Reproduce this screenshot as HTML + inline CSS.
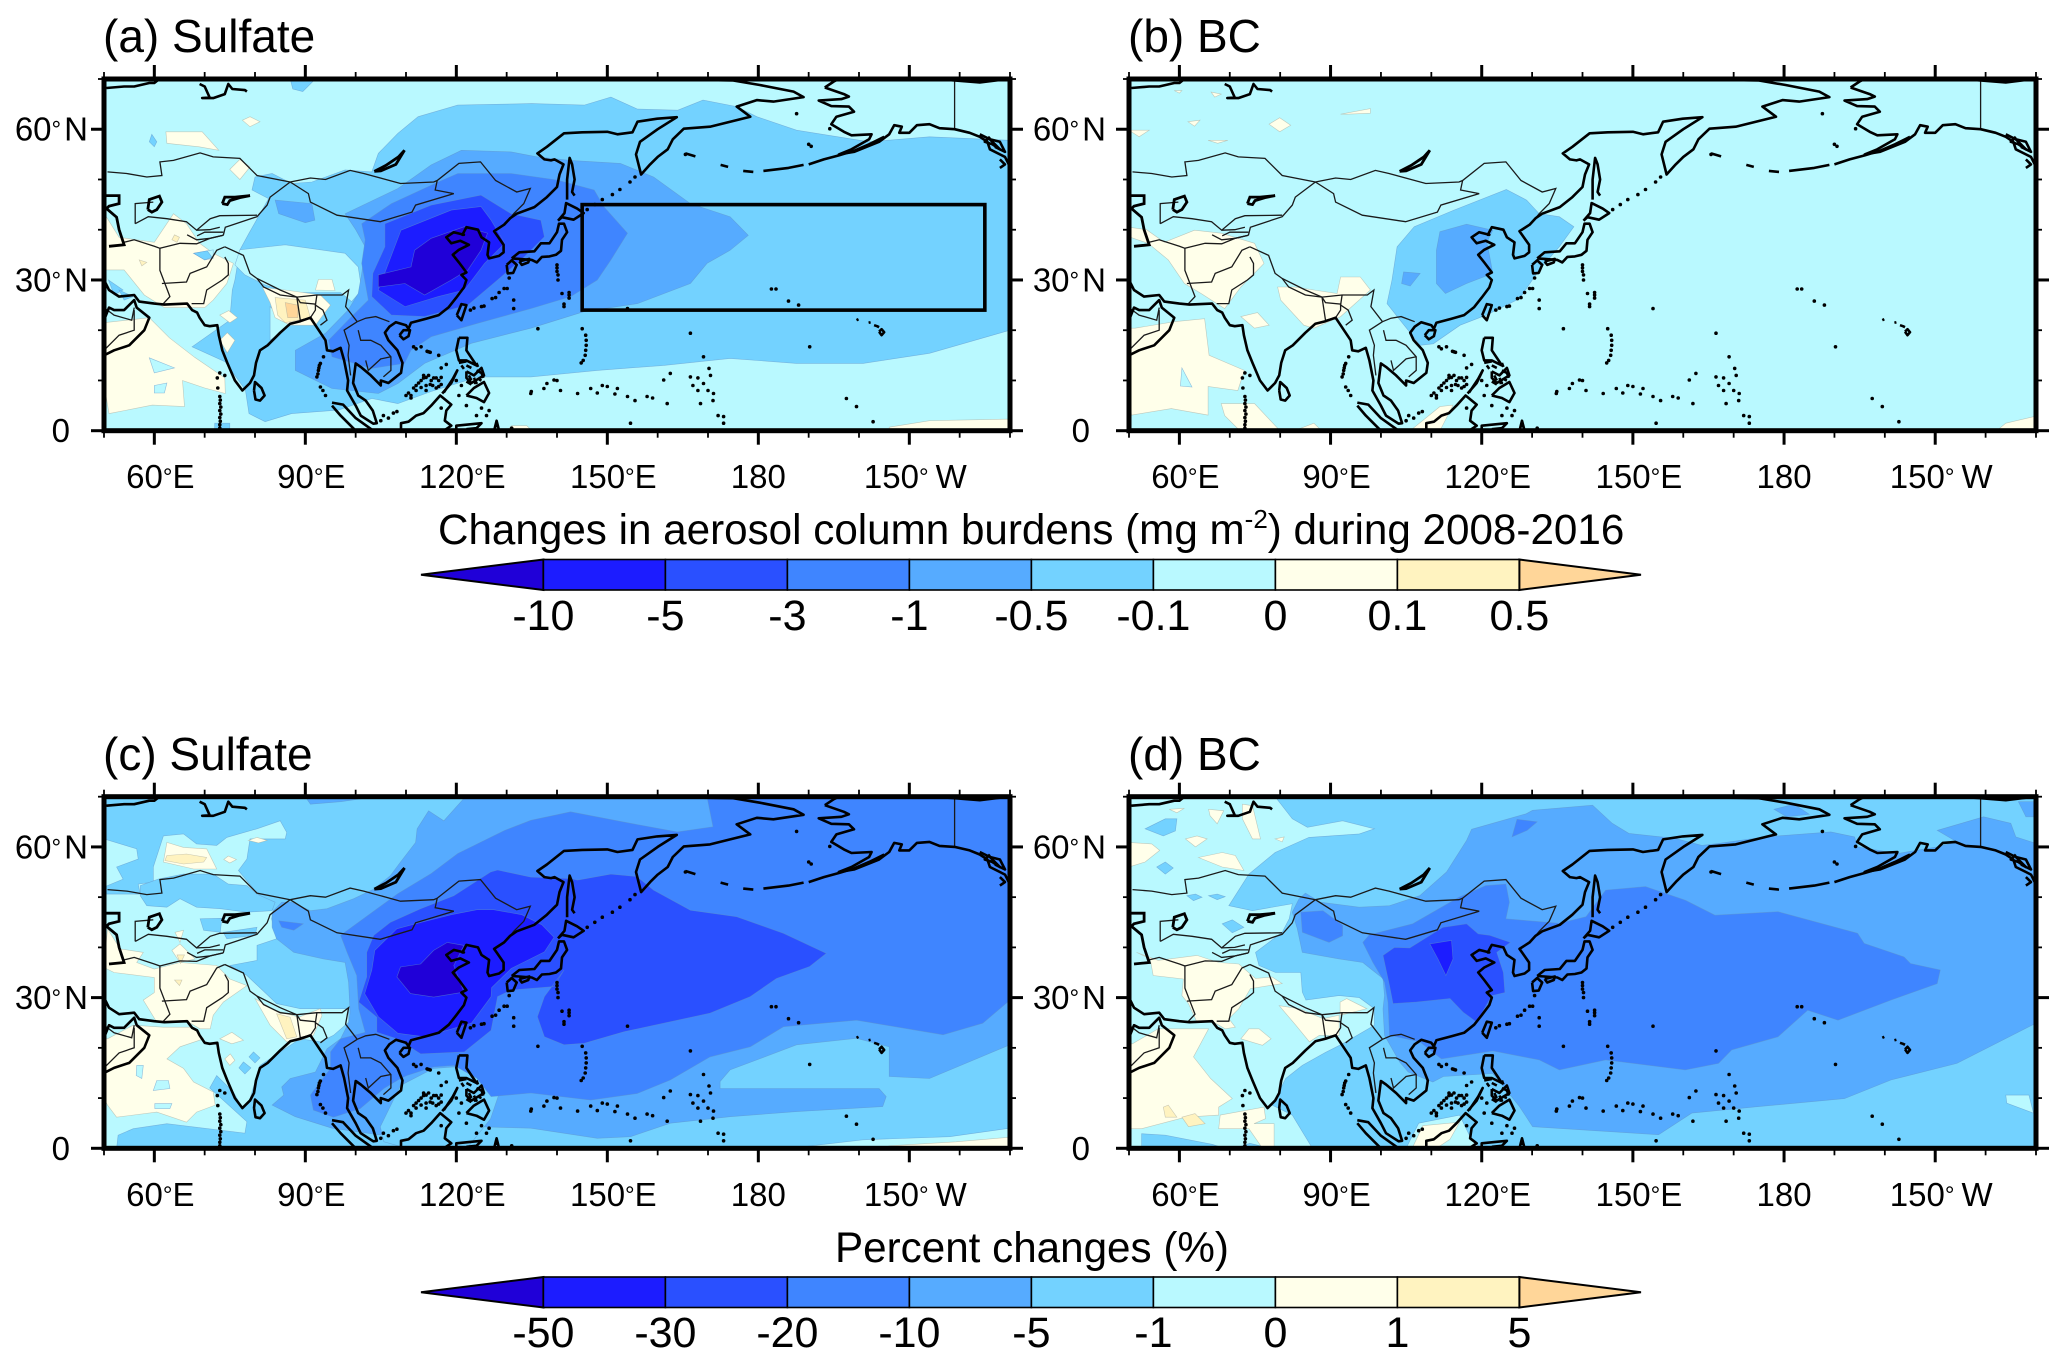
<!DOCTYPE html>
<html lang="en">
<head>
<meta charset="utf-8">
<title>Changes in aerosol column burdens</title>
<style>
html,body{margin:0;padding:0;background:#fff}
svg{display:block}
text{font-family:"Liberation Sans",Arial,sans-serif;fill:#000}
</style>
</head>
<body>
<svg id="figure" xmlns="http://www.w3.org/2000/svg" width="2067" height="1366" viewBox="0 0 2067 1366">
  <rect width="2067" height="1366" fill="#ffffff"/>
  <g id="panels"></g>
  <text x="103" y="52" font-size="46">(a) Sulfate</text>
  <text x="1128" y="52" font-size="46">(b) BC</text>
  <text x="103" y="770" font-size="46">(c) Sulfate</text>
  <text x="1128" y="770" font-size="46">(d) BC</text>
  <text x="438" y="544" font-size="42.2">Changes in aerosol column burdens (mg m<tspan font-size="26" dy="-16">-2</tspan><tspan dy="16">) during 2008-2016</tspan></text>
  <text x="835" y="1262" font-size="42.2">Percent changes (%)</text>
  <g id="bars"></g>
</svg>
<script>
// ---------- shared scales ----------
const levelColors = ['#2000D8','#1C1CFF','#2A50FF','#3F85FF','#56ABFF','#73D2FF','#B9F9FF','#FFFFEA','#FFF3C0','#FFD699'];
const xTickLons = [60,90,120,150,180,210];
const xTickLabels = ['60°E','90°E','120°E','150°E','180','150°W'];
const xMinorLons = [50,70,80,100,110,130,140,160,170,190,200,220,230];
const yTickLats = [0,30,60];
const yTickLabels = ['0','30°N','60°N'];
const yMinorLats = [10,20,40,50,70];
const burdenTicks = ['-10','-5','-3','-1','-0.5','-0.1','0','0.1','0.5'];
const percentTicks = ['-50','-30','-20','-10','-5','-1','0','1','5'];
const boxRegion = [145,225,24,45];

// ---------- contour fill polygons: [level index, [lon,lat, lon,lat, ...]] ----------
const panelABase = 6;
const panelAContours = [
[5,[230,57.8,214,58.5,202,57.5,187.6,59.8,179.7,62.5,175.7,64.5,169,65.8,164,63.8,156,64,150.7,66.4,145.4,64.8,135,65.1,120.3,64.8,112.4,62.5,108.4,59.2,104.5,55.2,103.2,51.5,97.9,51.9,91.3,49.5,87.3,49.2,83.4,51.2,80,50.5,79.4,47.9,82.7,46.2,78.8,39.3,77,36,76,30,75.5,28,75,22,67.5,16.7,74.1,13.7,78.1,8.1,78.8,3.4,82,1.8,87.3,3.4,96.6,4.1,103.2,6.4,108.4,5.4,115,7.8,124.3,10.7,134.8,10.7,148,12,161.2,13,174.4,14.4,187.6,13.4,200.8,13.4,214,15.4,230,20]],
[6,[77,36,86,37,97.9,35.3,100.5,32.6,101.2,28,99.2,25.7,97,27.5,92,27.5,87,27.5,82,29,78,31,76,33]],
[6,[83,24.7,87,21,83,18]],
[5,[72,0,72,1.5,75,1.5,75,0]],
[5,[87,70,87.5,68,89.5,67.5,92,70]],
[5,[50.9,30,53.8,28,52,27]],
[5,[53,28,55.8,26.7,54,26]],
[5,[59.5,59,60.5,57.5,60,56.5,59,57.5]],
[7,[50,43.3,53,38.5,60,37.5,63.8,43.2,66.4,41.2,69,37.3,71.7,35.3,75.7,33.3,74.4,29.3,71.7,26,70,24.5,62,24.5,58,27,54,32,50,32]],
[6,[67.8,35.3,71.7,36,71.7,34.3,70,34]],
[5,[67.8,35.3,70.5,35.8,71.5,34.5,70,34]],
[8,[64,39,65,38.5,64.5,37.5,63.5,38]],
[8,[57,34,58.5,33.5,57.5,32.8]],
[7,[50,21.5,59,22.5,63,18.5,68,14.6,74,10.5,74.1,7.4,70,8.5,65.6,10,66,4.8,59.6,5.1,51,3.4,50,9.4]],
[6,[60,9,62.5,9.5,62,7.5,60,7.5]],
[6,[59,14.5,64,12.5,60,11.5]],
[7,[81.5,28.5,86,28,93,27,95,25,92,21,87,21,84,22.5,83,25.5]],
[8,[84,26.5,90,26,91,22.5,86,21.5,84.5,23]],
[9,[86,25.5,88.5,25,88.5,22.5,86.5,22.5]],
[7,[92,28,92.6,30.1,95.3,30.1,95.9,27.9]],
[7,[62.3,59.5,69.5,59.5,72.8,55.8,68.9,56.5,62.5,57.2]],
[7,[77.5,61.8,79,60.5,81,61.5,79,62.5]],
[7,[73,23,75,21.5,76.5,22.5,74.8,23.9]],
[7,[73,18,74.5,15.5,76,18,74.5,19.5]],
[7,[75,52,77,54,79,52.5,77,50]],
[7,[206,0,206,0.7,214,2,230,2.3,230,0]],
[7,[130,0,131,1,134,1,135,0]],
[4,[142.7,53.8,152.6,53.2,159.2,50.5,166.5,45.2,174.4,42.6,178,38.9,174.4,35.9,169.8,33.3,166.5,29.3,156,25.3,145.4,23.7,134.8,20.4,123,17.4,113.7,13.4,108.4,9.4,104.5,7.4,95.3,8.4,88,12,88,16,94,19.4,98.5,24,100.5,27.3,101.2,31.3,101.9,36.6,100,40,97.9,43.2,108.4,48.2,115,52.9,121,55.8,130.9,55.5,136.1,54.5]],
[4,[84,45.9,91.3,45.2,91.9,41.9,90,41.4,84.7,43.2]],
[3,[101.2,41.2,107.1,45.2,116.4,49.5,120.3,51.2,130.9,51.2,140,49.9,147.4,47.9,149.3,44.6,154,39.3,150.7,34,148,30,142.7,26.7,134.8,24.3,124.3,21.4,115,18.7,111,16,109.7,13.4,103.2,12.4,95.3,14.7,94.6,18,99.2,22.7,102.5,26,101.2,33.3,101.9,38]],
[2,[105.8,41.2,115,44.9,124.9,46.9,130.9,43.2,136.8,41.9,137.5,38.6,133.5,34.6,128.2,30,122.3,25,113.7,22.7,107.1,23,103.2,26.7,103.4,31.3,105.8,36.6]],
[1,[109,39.9,119,43.9,124.9,44.6,126.9,41.9,129.6,37.3,125.6,33.3,121.6,28,116.4,26.7,109.8,24.7,104.5,28,106.5,33.3]],
[0,[111.7,35.9,115,38.3,121.6,40.6,126.2,39.3,124.9,35.9,122.3,32,119,30,113.7,27,109.8,29.3,104.5,28.6,104.5,31,111,32.6]]
];

const panelBBase = 6;
const panelBContours = [
[5,[124.9,48,128.9,45.9,131.4,43.2,135.4,42.6,138.3,40.6,135.4,36.6,131.4,32,127.5,26.3,120.9,23,115.7,21,110.4,17.3,107.8,17,103.8,22,101.2,25.3,102.2,30,103.2,36.6,106.6,40.6,114.5,43.9]],
[4,[111.7,39.6,117,41.1,122.2,39.9,121,37.5,121.6,34.6,122.2,31.3,117,29.3,112.8,27.3,111,29.3,111,35.9]],
[4,[104.5,31.6,107.8,31.3,105.8,28.8,104.1,29.3]],
[7,[50,40.5,53.5,40,57,37.5,63,39.9,68.3,39.3,74.9,37.3,76.8,33.3,72.2,28.6,69,24.3,64.3,27.3,61,29.3,57.8,34,53.8,37.3,50,38.6]],
[7,[79.5,28.6,82.8,28.6,91.3,27.3,92,30.6,95.9,30.6,97.9,28,92,22.7,86.7,20.4,84.7,21,80.1,26]],
[7,[72.2,22.7,75.5,23.5,77.8,21,74.9,20.4]],
[7,[50,20.4,51.2,20.4,59,21.7,65,22.3,65.9,15,72.9,12,71.6,8,65.7,8.8,65.7,3.1,58.4,4.4,50.5,3.1,50,8]],
[6,[60.5,12.5,62.5,8.7,60.2,8.9]],
[7,[68.3,5.4,74.9,5.4,79.5,0.5,79,0,72,0,69,3]],
[7,[82.8,0,86.7,1.5,88.2,0]],
[7,[105.8,0,111.7,4.8,114.3,5.1,111.7,0]],
[7,[222.2,0,224,1.5,229.6,2.8,230,0]],
[7,[79.9,62.3,82.1,60.8,79.9,59.5,77.8,61]],
[7,[92,63,97.9,64.1,97.9,63.2,93.3,63]],
[7,[50,59.8,54,59.8,52,58.5]],
[7,[61.7,61.5,64.1,61.8,63,60.6]],
[7,[65.7,57.8,69.6,57.8,67.6,57.2]],
[7,[66.3,67.4,68.3,67,67,66.4]],
[7,[59,67.7,60.5,67.7,60,67.2]]
];

const panelCBase = 5;
const panelCContours = [
[6,[59.8,56,61.8,62.2,65.8,62.6,68.4,60.6,72.4,60.3,74.4,61.9,80.4,63.6,85,65.2,86.3,62.9,86,61.6,79,61.6,78.4,57.6,76.7,55.3,80,51.3,83.7,47.3,83.3,45.7,84.3,41.7,80.4,40.4,80.4,37.4,75,36.4,78.4,34.4,84.3,28.8,89,27.8,93,27.8,98.6,27.8,98.6,25.1,95.6,22.5,93,21.2,89,21.8,85,19.2,81,16.5,80,13.2,78.7,8.9,77.4,8.2,75.7,11.2,72.4,14.5,71,12,78.4,5.3,78,3,62.5,4.9,55.8,3.9,52.8,2.6,52.5,0,50,0,50,50.6,57.2,50.6,56.8,52.6,59.8,53]],
[6,[50,61.6,56.5,59.6,56.8,57.6,52.5,56,53.8,53.6,50,52]],
[5,[57.2,52.3,60.8,53.6,65.8,54.6,71.7,54.6,74.7,52.6,78.4,52.3,80.4,50.6,84,49,83.4,47.3,78.4,47,73.1,47.7,68.4,48,65.1,49.7,62.5,48,58.5,48.3,57.2,50.3]],
[5,[69.1,45.7,73.4,45.8,73.1,43,69.8,43.4]],
[5,[73.7,43,80.4,44,80,42.4,74.4,41.7]],
[5,[77.7,17.2,79.2,16,78,14.8,76.8,16]],
[5,[79.7,19.2,81,18,80,17,78.8,18.2]],
[7,[62.5,60.9,65.8,59.9,70.4,59.6,72.4,55.6,67.8,55.6,61.8,57]],
[8,[62.5,58.3,66.4,58.6,70.4,57.9,69.8,57,65.8,56.6,62.1,57.3]],
[7,[80.4,61.9,82.4,61.3,80.7,60.8,78.7,61.3]],
[7,[74.7,58.2,76.3,57.5,75,56.8,73.8,57.5]],
[7,[50.7,43.7,53.2,39.7,57.8,39,56.5,37,60,35.7,65.1,37,72.4,36.4,75,33.7,78.4,32.4,73.7,29.1,71.7,26.5,71.1,23.8,69.1,23.8,66.8,25.1,60.5,25.1,57.8,29.5,60,31,60,34,52,35,50,36]],
[7,[63.5,39.4,65.1,40.7,68.1,37.7,65.1,37]],
[7,[64.1,43,65.8,43.4,65.1,41]],
[8,[64,33.5,65.5,33.5,65,32.4]],
[8,[64.5,38.5,66,38.5,65.2,36.8]],
[7,[80,29.8,84,27.5,88.7,26.1,93,27.8,93.3,26.4,91.6,22.5,89,21.5,86.3,21.2,83,24.5]],
[8,[84.3,26.8,87,26.1,88.3,22.2,86.3,21.8]],
[7,[75.4,23.1,77.7,21.5,75.4,20.8,73,21.8]],
[7,[75.1,18.8,76,17.5,75,16.5,74,17.8]],
[7,[50.7,21.8,55.8,24.5,61.8,24.1,67.8,24.1,69.8,21.8,65.1,20.2,62.5,17.8,65.8,15.9,67.8,13.2,71.7,11.2,72.1,8.6,68.4,7.2,66.4,5.2,60.5,7.2,52.5,6.2,50.7,8.6,50,10,50,21.8]],
[6,[56.5,16.5,57.8,16.5,57.5,13.9,56.4,14.5]],
[6,[60.5,13.5,62.8,13.5,63.1,11.9,59.8,11.5]],
[6,[60.1,8.9,63.5,8.9,63.1,7.9,60.1,7.9]],
[6,[186.3,0,200.8,1.7,218,2.3,230,4,230,0]],
[7,[205,0,206,0.5,219.3,1.3,230,2.2,230,0]],
[4,[230,70,121.8,70,117.5,65.2,114.5,67.2,112.2,63.6,111.9,60.9,108.9,57,106.9,54.3,103.6,51.6,99.6,49.7,94.3,47.7,91,47.3,87.3,49,85.3,49,83.4,47,83.4,44,84.3,41.7,87.7,39,93.6,37.7,97.9,37,98.6,33,98.9,27,98.6,25,97,21.8,94.3,19.8,92,15.2,87,13.9,85.3,12.2,85.7,10.6,83.4,8.6,88,6.3,95.3,4,104.5,2.7,113.7,2.7,124.3,4.3,134.8,4,148,2,154.6,2.3,162.5,5,174.4,6.3,187.6,7.3,204.7,8.3,205.4,10.3,204,11.9,172.4,11.9,172.4,13.3,174.4,15.6,179.7,17.6,187.6,20.6,199.5,21.9,206,20.2,206,14.3,214,13.9,230,20.6]],
[4,[90,70,91,68.5,97,69,104,70]],
[5,[104.9,4.3,108.9,12.5,115.5,15.9,119.5,16.2,126.8,14.9,128.4,10.6,126.8,5.9,122.1,0,116.8,0,110.2,0,105.6,1.3]],
[3,[230,70,169.8,70,171,64,163.9,63,154.6,64.7,142.7,67,134.8,65.3,129.6,63.3,120.3,58.7,115,54.7,108.4,50.7,97,42.4,98.3,39,100.2,34.4,100.6,27.8,101.9,23.1,97,21.8,95,19.2,95,15.9,91,10.6,91.6,7.6,95.6,6.2,100.9,7.9,105.6,11.9,108.9,13.9,110.2,14.5,115.5,16.2,119.5,16.5,124,14,126.9,10.3,134.8,11,146.7,9.6,155.9,10.9,162.5,13.6,170.4,18.2,178.4,20.2,185,24.2,199.5,25.5,216.7,22.6,224.6,24.9,230,29.5]],
[3,[84.7,45.3,89.6,44.7,87.7,43.4,85.3,44]],
[2,[103.6,42.4,102.2,39,102.2,34.1,100.6,29.1,104.2,26.1,104.2,23.1,108.2,21.8,112.9,18.8,121.6,19.2,126.9,23.5,128.2,30.2,130.9,31.5,139.4,32.2,141.4,35.5,137.5,30.2,136.1,26.2,137.5,22.2,141.4,20.6,145.4,20.9,153.3,23.2,161.2,24.9,170.4,26.9,178.4,30.2,183.6,33.8,190.2,36.2,193.5,38.8,185,42.8,175.7,46.1,166.5,47.4,159.2,51.4,155.9,54.1,150.7,54.6,144.1,53.4,142.7,53.7,134.8,54,128.2,55.4,126.8,55,119.5,50.3,112.9,47.7,106.9,45]],
[1,[103.8,39.4,108.2,43.7,113,45,119,46.5,124.1,47.5,127.4,47.5,133,46.5,137,44.5,139.4,42,137.5,39.1,130.9,35.8,127,32,126.9,30.2,123,24.9,113.7,22.2,108.4,22.9,104.5,26.2,101.8,30.8,103.2,35.5]],
[0,[108.2,34.1,108.9,36.1,112.9,36.7,115.5,39.4,118.2,41,121.5,40.4,119.5,36.4,121.5,31.1,115.5,30.1,110.9,30.8]]
];

const panelDBase = 5;
const panelDContours = [
[6,[79,70,82.4,65.6,85.4,63.9,92.4,65.2,98.7,63.6,95.7,62.6,85.7,61.9,79,58.9,73.8,54.6,69.8,48.3,74.5,47.3,82.4,48.7,81.8,45.7,80.4,43,75.1,39,75.8,36.4,79.1,35,84.1,35,84.4,31.1,85.1,29.5,91.7,30.4,95.7,30,98.7,27.8,98.7,24.5,92.4,20.8,89,19.1,84.4,16.5,81.1,13.9,78.4,8.6,82.4,6.6,86.4,0,50,0,50,70]],
[6,[224,10.6,228.6,10.6,229.5,7,224.2,9]],
[6,[105,0,107.5,5,115.6,6.6,117.6,2.5,119.7,0]],
[7,[106.2,0,108.3,4.5,115.6,5.2,113.7,1.8,111,0]],
[5,[53.2,63.6,57.2,65.6,59.5,65.6,59.2,63.2,56.8,62.2]],
[5,[55.5,56,57.2,57,58.8,55.8,57.2,54.6]],
[5,[68.5,44.7,70.5,45.5,72.8,44,70.5,42.9]],
[5,[61.5,50.3,63.2,50.6,64.5,50,62.8,49.3]],
[5,[65.8,50.3,67.5,50.6,69.1,50.1,67.5,49.5]],
[5,[52.5,0,52.5,2.9,57.2,2.6,66.5,0.8,69,0]],
[5,[71,0,74,1,78,0]],
[5,[61,12.5,63,12.2,62,11.2]],
[7,[65.8,67.5,68.8,67.2,67.5,64.6,66.1,66.2]],
[7,[72.5,68.5,74.5,68.2,76.1,61.6,74.5,61.6,72.5,65.6]],
[7,[61.2,61.6,63.5,62.2,65.5,61.6,63.2,60]],
[7,[50,60.9,54.5,60.6,56.1,59.3,53.2,57,50,56]],
[7,[63.8,57.9,68.5,58.9,71.1,58.3,72.8,55.3,68.5,56]],
[7,[79,61.6,80.8,62,80.4,61]],
[7,[58,67.5,61,67.7,59.5,66.8]],
[7,[51.5,39,54.2,37.7,54.8,34.4,60.8,33.7,60.5,30.4,61.8,28.8,63.5,25.1,66.8,25.1,69.1,23.8,71.1,24.1,69.8,25.8,71.8,27.8,74.1,31.8,80.4,32.8,78.4,34.1,75.1,33.8,71.8,36.7,67.8,37,63.5,38.4,55.8,37.4]],
[7,[91.9,29.1,93.2,29.8,97.2,27.8,93.2,26.8,91.9,26.5]],
[7,[79.8,28.4,83.8,27.8,88.5,25.8,91.7,26.5,91.7,22.5,87.8,22.5,85.8,21.2,83.1,24.5]],
[7,[73.8,23.8,75.8,23.8,78.2,21.8,76.5,20.5,72.2,21.8]],
[7,[50.7,20.8,55.8,23.8,65.8,23.8,62.8,18.2,66.2,13.9,70.5,9.9,67.8,8.2,67.8,6.6,61.2,6.2,52.5,3.9,50,3.9,50,20.8]],
[7,[68.1,6.6,76.8,8.2,77.1,5.9,74.8,4.9,78.8,4.9,78.8,0,76.5,0,73.8,3.9,67.8,3.9]],
[8,[56.8,8.2,57.8,8.6,59.5,6.2,57.2,6.2]],
[8,[60.5,6.2,63.1,6.9,65.1,4.9,61.8,4.3]],
[4,[117,61.3,118,63.5,128.8,66.6,130.1,67.3,142,68.3,145.9,64.7,149.2,62.7,158.4,61.7,163.7,60.3,167,60.7,176.2,62,189.3,63,194,62,194.6,60,202.5,58.7,210.4,60,214.3,61,210.4,63.3,219.6,66,225,64.7,226,62,230,60.7,230,24.9,214.3,16.9,201.2,13.6,192,9.9,174.9,8.3,161.7,7,155.1,2.7,130.1,4.3,127.5,8.3,122.2,14.9,112.4,14.3,110.3,13.2,105.4,15.2,103.7,17.2,100.7,22.5,100.4,27.8,100.7,30.4,100.4,33.8,98,35.7,96.4,37,91.7,37.7,84.4,39,83.4,43.7,82.4,47,83.7,49.6,85,50.8,88,49,95.7,48,101.7,48.3,107.7,50.3,113,55]],
[4,[178,67.5,182,68.5,185,66.5,180.5,66]],
[4,[226.5,69,230,69,230,66,228,66]],
[3,[96.4,41,97.7,42.5,106.3,44.7,115.5,50,120.8,52.3,124.8,52.6,125.5,49,124.8,45.7,135.4,44.8,140.7,46.1,144.6,51.4,152.5,52.1,160.4,49.4,166.3,46.4,178.8,47.1,194.6,42.8,195.9,40.8,203.8,38.1,205.1,36.8,211,35.5,210.4,32.8,201.2,29.5,190.7,25.5,184.7,27.5,178.8,22.2,169.6,19.6,167,16.9,160.4,15.6,144.6,17.6,135.4,15.6,131.4,17.6,122.2,19.4,112,17.8,107.7,21.2,101.7,22.5,101.4,29.1,100.7,33.1,98.4,37]],
[3,[84.1,47,88.5,47.3,92.4,44.4,92.4,42.3,89.7,41,84.4,43]],
[3,[126,62,129,63.3,131,65,127,65.5]],
[2,[100.4,38.4,102.7,40,105.7,39.9,112.3,44,117,44.7,119.3,42.7,121.6,42.4,125.7,41,123,39,124.3,35,124.6,31,122,30.4,119,25.1,116.3,27.1,113.7,29.8,107,29.1,102.4,28.8,101.7,32.4]],
[1,[109.7,40.7,114,41.4,114.3,37.7,112.9,34.4,111.3,37.7]]
];

// ---------- coastlines, lakes, borders (lon,lat) ----------
const coastLines = [
[50,30,51,28,53,26.7,56,27,57,25.7,60,25.3,62,25.1,66.5,25.3,67.5,24,68.5,23.5,69,22.5,70,21,71,20.8,72.5,21,72.8,19,73.5,16,74.5,13.5,76,10,77.5,8,79,9.5,79.8,11,80.2,13.5,81,16,82.5,17,85,19.5,87,21.3,89,21.8,91,22.5,92,21,94,18,94.3,16,95.5,15.8,97,16.5,97.7,14,98.5,10,98.3,8,100,5,101,3,103.5,1.4,104.2,1.5,103.4,4,102,6,100.5,7,99.5,9.5,100,13.4,101,12.7,103,11,105,9,105,10,106.5,9.5,109,11.5,109.3,13.5,108.3,16,106.5,18,105.8,19.5,106.7,20.7,108,21.6,110,21,110.5,20.3,111,21.5,114,22.3,116.5,23,118.5,24.6,120,26.5,121.5,28.5,122,30,121,31,122,31.5,120.5,33.5,119.3,35,120.5,36,122.5,37,120.8,37.8,119,37.3,118,38.5,119.5,39.5,121.5,39,121.2,39,122,40.5,124.3,40,125,38.5,126.5,37.5,126.2,35,126.5,34.3,128.5,34.8,129.4,35.5,129.4,37,128,39,127.5,39.7,129.5,41,130.7,42.3,132,43.2,135.5,44.5,138,46.5,140,48.5,140.5,51,141.3,53,139.5,54,138.8,53.8,137.5,54,136.1,55.2,138,56.5,141.4,59.2,145,59.4,150,59.5,152,59,155,59.4,156,61.5,159.9,62.1,163.8,62.4,160,60,156.5,57.5,155.7,55,156.7,51,158.5,53,160,54.5,162,56,163,58,165.2,60.1,170.4,60.5,178.4,62.5,175.7,64.5,179.7,65.8,183,65.5,189,66.4,187,67.5,180.3,68.8,175,69.7,169,69.8,171,70.4],
[50,22,51,24.5,52,24,54,24,56,26,56.5,24.5,59,22.5,58,20,55,17,52,16,50,15],
[50.5,68.2,54,68.5,56,68.5,59,69.2,60,69.2,61,70,64,70.5],
[69,69,70,68.5,71,66.3,69.5,66.2,71.7,66.2,74,67,74.7,69,75.5,68,78,67.8,78.4,67.5],
[193.2,68.3,197,67,198,66.5,196.5,66,192,65.7,194.5,64.6,198,64.5,199,63.5,195.5,62.5,194.5,61,197,59.5,198.5,58.8,202.5,59,202,58,198.5,56,196,55,199,55.5,204,57.5,206,59,207,60.8,208.5,60.5,208,59.3,210,59.3,211.5,60.8,214,61,216,60.2,219,60,222,59.3,224,58.5,225.5,57.5,226,56,228,55,229,54.5,230,52.5],
[193.2,68.3,195,69.5,197,70.5],
[215,70,219,69.7,224,69.3,228,69.8],
[224,59,226,58,227,57,228,56,226.5,57,225,57.5,226,58.5],
[226,58,228,57.5,229,55.5,227,56.5],
[228,54,229,53,228,52.3],
[190,53,193,54,196,54.8,199,55.7,202,57,205,58.5],
[172.5,52.9,174,52.5],[177,51.7,179,51.5],[181,51.7,186,52.3,189,52.9],
[165.5,55.2,167.5,54.6],
[79.8,8,80,9.7,81.3,8.5,81.9,7,81,6,80.1,6.2,79.8,8],
[108.7,19,109.5,20,110.8,20,110.5,18.8,109.5,18.2,108.7,19],
[120.1,23,121,25.2,122,25,121,22,120.1,23],
[130,33,131,33.9,132,33,131.3,31.4,130.2,31.3,130,33],
[132.5,33.7,134.5,34.2,134.3,33.5,133,33,132.5,33.7],
[131,34.3,132.5,35.5,135.5,35.7,136.8,37.3,138.5,37.3,140,39.5,140.4,41.2,141.4,41.2,142,39.5,141,38,140.8,35.8,139.8,35,138.5,34.7,137,34.6,136,33.5,135,34,132.5,34.2,131,34.3],
[140.2,41.8,141.5,43.3,141.8,45.3,144,44.2,145.3,43.3,143.3,42,141,42.5,140.2,41.8],
[142,46,142,48,142,50,142.5,54.3,143,53,143.5,50,143,47.5,143.5,46.8],
[120.5,18.5,122.2,18.5,122,16,124,13,122,14,120.5,14,120,16,120.5,18.5],
[122,7,123.5,8.5,125.5,9.7,126.5,7.5,125.5,5.7,124,6.5,122,7],
[122,13,123,12.5],[121,13,121.5,12.3],[124,12,125,11.5,125.4,10.5],[122.5,11,123,10],[123.5,10.5,124,9.5,123.5,9.5],[122,9.8,123,9.2],[124.5,10.2,125,10],[120.5,13.5,122,13.8],[124,13.5,124.3,12.7],
[122,11.8,123.5,11,125,12.5,125.5,11,123,9.5,122,10.5,122,11.8],
[117.2,7.4,119,9.5,120.2,12,119.3,10.3,117.5,7.6],
[109,0,109,1.5,110.5,1.8,112,3,113.5,3.5,115,5,116.8,7,119,5.2,118,4,117.7,2,119,1,117.5,0],
[95.3,5.6,97.5,5.2,100,2.5,103.5,0],[100,0,97,3,95.3,5],
[120,0,120,1,125,1.5,124,0.5,122,0.3],
[127.5,0,128,2,128.5,0],
[199.5,22,199.9,22.2],[201.9,21.5,202.3,21.6],[203,21,203.6,20.8,204,20.6],[204,19.7,204.5,20.2,205,19.6,204.5,19,204,19.7]
];
const lakeLines = [
[103.7,51.6,105,51.7,108,53,109.7,55.8,108.5,54.5,106,52.8,103.7,51.6],
[73.5,45.2,74,46.5,76,46.5,79,46.8,77,46.4,75,45.8,74.5,45,73.5,45.2],
[58.7,44,59,46,61,46.7,61.5,45.5,60.5,44,59.5,43.5,58.7,44],
[50.5,46.8,53,46.8,53,45.2,51,44.7,50.5,44.2,52.5,42.5,53,40,54,37,51,36.7]
];
const borderLines = [
[50.7,51.5,54.5,51.2,58.5,50.5,61.5,50.8,61.1,53.5,63.8,53.8,69.1,55.3,71.7,54.5,77,54.2,80.4,50.8,87,49.5],
[87,49.5,91,50.3,94,50,98.9,51.8,101.6,51.2,108.9,49.2,115.5,49.5,116.2,49.8,120.5,53.2,124.8,53.5,127.8,49.8,132,47.5,134.7,48.2,133.4,45.2,131.4,43.2,130.7,42.3],
[87,49.5,90.6,47.2,91,45.5,96.3,42.9,104.9,41.6,111.2,43.5,111.9,44.9,119.5,47.2,115.8,47.9,116.2,49.8],
[87,49.5,83,46.5,82.4,44.9,80.4,42.6,74.1,40.5,73.7,38.9],
[56.2,41.2,56.2,45.2,59.8,45.5],
[56.2,41.2,58.8,42.6,62.5,42.2,66.4,41.6,68.4,39.9,71.1,42.2,73,42.8,80.4,42.9],
[68.4,39.9,71,40,73,40.5],[68.5,38.8,70,39.5,73.7,39.5],[66.5,39,68.4,38,71.1,38.3,73.7,38.9],
[54,37.5,56,38,60,36.7,61.1,36.3,61.1,31.9,63.1,26.7,61.8,25.3],
[61.1,36.3,65.1,37.3,68.4,37.2,71.1,38.3,73.7,38.9],
[61.5,29.3,66.4,29.6,67.1,31.3,70.4,32.6,72.4,35.9,74,36.6],
[74,34.6,74.7,33.3,74.7,31,73.5,30,70.4,28,69.8,25.3,67.4,25.3],
[74,36.6,77.7,34.9,79,31.3,80.4,30.3,85,28,88.3,26.6,92.3,27,97.3,27,98.6,28,98,24.7,100.3,21.7],
[80.4,30.3,81.7,28.6,85,27,88.3,26.6],
[88.3,26.6,89,22,91,22.5,92,24,92,25.2,89,25.5,88.3,26.6],
[92.3,27,92,25,93.5,24,94.3,22,93,21],
[100.3,21.7,97.7,20,98.7,17,98.5,15,99,11],
[100.3,21.7,102,22.4,104,22.7,106.7,21.7],
[100.5,20,101,18,103,18,105,17,107,14.7,107,12,105.5,10.7],
[102,14,102.5,12,105,14.3,107,14.7],
[50,16,53,19,56,20,56,24],[50,24.5,52,23,55.5,22,56,24.5],
[219,70.2,219,60]
];
const islandDots = [
[122.8,24],[123.5,24.4],[125,24.7],[125.5,24.8],[127.1,26.3],[127.8,26.5],[128.5,27.5],[129.5,28.3],[130.1,28.3],[130.5,30.4],[131.4,26],[131.4,24.3],
[146,44],[147.5,45],[149,46],[151,47],[152.5,48],[154.5,49.5],[155.5,50.5],
[140,33],[140,32.4],[140,31.7],[140.2,31],[140.2,30],[141,27.3],[142.4,27.5],[142.4,27],[142.4,26.4],[141.4,24.7],[141.4,25.2],[136.2,20.3],
[145,20.3],[145.7,19],[145.8,18],[145.8,17],[145.7,16],[145.6,15],[145.2,14],[144.8,13.5],[154,24.3],
[182.6,28.2],[183.5,28.2],[186,25.8],[188,25],[134.8,7.4],[134.9,7.8],[138,9.4],[140,10],[137.4,8.4],[140.7,8],[139.4,10.1],[144.1,7.4],[146.7,8.4],
[150,8.8],[152,8.4],[154,6.8],[157.9,6.8],[161.9,5.4],[166.5,10.7],[169.1,9.4],[171.1,7.4],[168.5,5.4],
[173.1,2.8],[173.1,1.5],[170.2,12.4],[169.1,14.7],[190.2,16.7],[166.5,19.4],[162.5,11.4],[161.2,10.1],[154.6,1.5],
[149,9],[148,7.5],[151.5,7.3],[155.5,6],[159,6.5],[167,9],[168,8],[170,8],[170.5,11],[168,10.5],[171,6],[172,3],
[197.5,6.4],[199.5,4.8],[202.8,1.8],[187.6,63.1],[194.2,60.1],[190,57],[190.5,56.6],[165.5,55],
[73,0.5],[73,1.2],[73.1,1.9],[73,2.6],[73.2,3.3],[73,4],[73.2,4.7],[73,5.4],[73.1,6.1],[73,6.8],[72.6,8.5],[72.5,10.5],[73,11.5],[74,11],
[93.6,14.7],[93,13.4],[92.8,13],[92.7,12.5],[92.6,12],[92.5,11.3],[92.3,10.7],[93,8.7],[93.5,8],[94,7],
[111.5,16.7],[112,16.3],[113,16.7],[114.5,15.7],[114.2,15.8],[114.8,15.6],[118,13.2],[117,12.5],[116.5,15],
[110,7],[110.5,7.5],[111,7],[111.5,8.5],[112,9],[112.5,9.5],[113,10],[113.5,10.5],[114,10.6],[114.5,11],[115,10],[115.5,10.5],[116,10.5],[116.5,10],[117,10.6],[114,9],[114.8,9.2],[115.3,9],[116,8.5],[116.5,8.8],[113,8.6],[112,8],[111,6.5],[117,9.2],[114,8],[113.5,11],
[117,4.5],[120.5,7],[122,5],[124,3],[126,3],[126.5,4],[125,4.5],[121,9],[120,10],
[106.5,2.5],[107.5,3.5],[108.2,3.8],[105,2],[105.5,3],[128,1],[131,0.5]
];

// ---------- panel frames (pixel layout) ----------
const panelSetups = [
  {id:'a', left:104,  right:1010, top:79,    bottom:430.7,  base:panelABase, contours:panelAContours, yGap:16, zeroGap:34},
  {id:'b', left:1129, right:2036, top:79,    bottom:430.7,  base:panelBBase, contours:panelBContours, yGap:23, zeroGap:39},
  {id:'c', left:104,  right:1010, top:796.7, bottom:1148.3, base:panelCBase, contours:panelCContours, yGap:16, zeroGap:34},
  {id:'d', left:1129, right:2036, top:796.7, bottom:1148.3, base:panelDBase, contours:panelDContours, yGap:23, zeroGap:39}
];

const SVGNS = 'http://www.w3.org/2000/svg';
function mk(tag, parent){
  const el = document.createElementNS(SVGNS, tag);
  parent.appendChild(el);
  return el;
}
function pathFromFlat(flat, sx, sy, close){
  let d = '';
  for(let i=0;i<flat.length;i+=2){
    d += (i===0?'M':'L') + sx(flat[i]).toFixed(1) + ' ' + sy(flat[i+1]).toFixed(1);
  }
  return close ? d+'Z' : d;
}
function labelWithDegree(textEl, label){
  const parts = label.split('°');
  if(parts.length===1){ textEl.textContent = label; return; }
  const a = mk('tspan', textEl); a.textContent = parts[0];
  const b = mk('tspan', textEl); b.setAttribute('font-size','24'); b.setAttribute('dy','-3'); b.textContent = '°';
  const c = mk('tspan', textEl); c.setAttribute('dy','3');
  const gap = parts[1]==='W' ? 7 : (parts[1]==='N' ? 3 : 0);
  c.setAttribute('dx', gap);
  c.textContent = parts[1];
}

const panelsGroup = document.getElementById('panels');
panelSetups.forEach(function(p){
  const sx = function(lon){ return p.left + (lon-50)*(p.right-p.left)/180; };
  const sy = function(lat){ return p.bottom - lat*(p.bottom-p.top)/70; };
  const g = mk('g', panelsGroup);
  
  

  const clip = mk('clipPath', g);
  clip.setAttribute('id', 'clip-'+p.id);
  const clipRect = mk('rect', clip);
  clipRect.setAttribute('x', p.left);
  clipRect.setAttribute('y', p.top);
  clipRect.setAttribute('width', p.right-p.left);
  clipRect.setAttribute('height', p.bottom-p.top);

  const field = mk('g', g);
  field.setAttribute('clip-path', 'url(#clip-'+p.id+')');
  
  

  const bg = mk('rect', field);
  
  
  bg.setAttribute('x', p.left);
  bg.setAttribute('y', p.top);
  bg.setAttribute('width', p.right-p.left);
  bg.setAttribute('height', p.bottom-p.top);
  bg.setAttribute('fill', levelColors[p.base]);

  p.contours.forEach(function(c){
    const poly = mk('path', field);
    
    
    poly.setAttribute('d', pathFromFlat(c[1], sx, sy, true));
    poly.setAttribute('fill', levelColors[c[0]]);
    poly.setAttribute('stroke', c[0]>=7 ? '#a8a89a' : '#5f93c8');
    poly.setAttribute('stroke-width', '0.6');
    poly.setAttribute('stroke-opacity', '0.6');
  });

  borderLines.forEach(function(b){
    const line = mk('path', field);
    
    
    line.setAttribute('d', pathFromFlat(b, sx, sy, false));
    line.setAttribute('fill', 'none');
    line.setAttribute('stroke', '#1a1a1a');
    line.setAttribute('stroke-width', '1.3');
  });
  coastLines.forEach(function(b){
    const line = mk('path', field);
    
    
    line.setAttribute('d', pathFromFlat(b, sx, sy, false));
    line.setAttribute('fill', 'none');
    line.setAttribute('stroke', '#000');
    line.setAttribute('stroke-width', '2.6');
    line.setAttribute('stroke-linejoin', 'round');
  });
  lakeLines.forEach(function(b){
    const line = mk('path', field);
    
    
    line.setAttribute('d', pathFromFlat(b, sx, sy, false));
    line.setAttribute('fill', 'none');
    line.setAttribute('stroke', '#000');
    line.setAttribute('stroke-width', '2.8');
  });
  islandDots.forEach(function(d){
    const dot = mk('circle', field);
    
    
    dot.setAttribute('cx', sx(d[0]).toFixed(1));
    dot.setAttribute('cy', sy(d[1]).toFixed(1));
    dot.setAttribute('r', '1.8');
    dot.setAttribute('fill', '#000');
  });

  if(p.id==='a'){
    const box = mk('rect', g);
    
    
    box.setAttribute('x', sx(boxRegion[0]));
    box.setAttribute('y', sy(boxRegion[3]));
    box.setAttribute('width', sx(boxRegion[1])-sx(boxRegion[0]));
    box.setAttribute('height', sy(boxRegion[2])-sy(boxRegion[3]));
    box.setAttribute('fill', 'none');
    box.setAttribute('stroke', '#000');
    box.setAttribute('stroke-width', '3.6');
  }

  const frame = mk('rect', g);
  
  
  frame.setAttribute('x', p.left);
  frame.setAttribute('y', p.top);
  frame.setAttribute('width', p.right-p.left);
  frame.setAttribute('height', p.bottom-p.top);
  frame.setAttribute('fill', 'none');
  frame.setAttribute('stroke', '#000');
  frame.setAttribute('stroke-width', '5');

  function tick(x1,y1,x2,y2,w,name){
    const t = mk('line', g);
    
    
    t.setAttribute('x1', x1);
    t.setAttribute('y1', y1);
    t.setAttribute('x2', x2);
    t.setAttribute('y2', y2);
    t.setAttribute('stroke', '#000');
    t.setAttribute('stroke-width', w);
  }
  xTickLons.forEach(function(lon){
    tick(sx(lon), p.top, sx(lon), p.top-14, 3, 'x-major-tick');
    tick(sx(lon), p.bottom, sx(lon), p.bottom+14, 3, 'x-major-tick');
  });
  xMinorLons.forEach(function(lon){
    tick(sx(lon), p.top, sx(lon), p.top-7, 1.8, 'x-minor-tick');
    tick(sx(lon), p.bottom, sx(lon), p.bottom+7, 1.8, 'x-minor-tick');
  });
  yTickLats.forEach(function(lat){
    tick(p.left, sy(lat), p.left-13, sy(lat), 3, 'y-major-tick');
    tick(p.right, sy(lat), p.right+13, sy(lat), 3, 'y-major-tick');
  });
  yMinorLats.forEach(function(lat){
    tick(p.left, sy(lat), p.left-6, sy(lat), 1.8, 'y-minor-tick');
    tick(p.right, sy(lat), p.right+6, sy(lat), 1.8, 'y-minor-tick');
  });

  xTickLons.forEach(function(lon,i){
    const t = mk('text', g);
    
    
    const hasDeg = xTickLabels[i].indexOf('°')>=0;
    t.setAttribute('x', sx(lon)+(hasDeg?6:0));
    t.setAttribute('y', p.bottom+57.5);
    t.setAttribute('font-size', '33');
    t.setAttribute('text-anchor', 'middle');
    labelWithDegree(t, xTickLabels[i]);
  });
  yTickLats.forEach(function(lat,i){
    const t = mk('text', g);
    
    
    t.setAttribute('x', p.left-(lat===0?p.zeroGap:p.yGap));
    t.setAttribute('y', sy(lat)+11.5);
    t.setAttribute('font-size', '33');
    t.setAttribute('text-anchor', 'end');
    labelWithDegree(t, yTickLabels[i]);
  });
});

// ---------- colorbars ----------
const barsGroup = document.getElementById('bars');
function drawColorbar(name, labels, top, bottom, labelBase){
  const x0 = 543.4, step = 122.0, tipL = 421, tipR = 1641;
  const mid = (top+bottom)/2;
  const g = mk('g', barsGroup);
  
  
  const xAt = function(i){ return x0 + i*step; };

  const left = mk('polygon', g);
  
  
  left.setAttribute('points', tipL+','+mid+' '+xAt(0)+','+top+' '+xAt(0)+','+bottom);
  left.setAttribute('fill', levelColors[0]);
  left.setAttribute('stroke', '#000');
  left.setAttribute('stroke-width', '2');

  for(let i=0;i<8;i++){
    const seg = mk('rect', g);
    
    
    seg.setAttribute('x', xAt(i));
    seg.setAttribute('y', top);
    seg.setAttribute('width', step);
    seg.setAttribute('height', bottom-top);
    seg.setAttribute('fill', levelColors[i+1]);
    seg.setAttribute('stroke', '#000');
    seg.setAttribute('stroke-width', '1.6');
  }

  const right = mk('polygon', g);
  
  
  right.setAttribute('points', xAt(8)+','+top+' '+tipR+','+mid+' '+xAt(8)+','+bottom);
  right.setAttribute('fill', levelColors[9]);
  right.setAttribute('stroke', '#000');
  right.setAttribute('stroke-width', '2');

  labels.forEach(function(txt,i){
    const t = mk('text', g);
    
    
    t.setAttribute('x', xAt(i));
    t.setAttribute('y', labelBase);
    t.setAttribute('font-size', '43');
    t.setAttribute('text-anchor', 'middle');
    t.textContent = txt;
  });
}
drawColorbar('burden-colorbar', burdenTicks, 559.5, 590, 630);
drawColorbar('percent-colorbar', percentTicks, 1277, 1307.5, 1347);
</script>
</body>
</html>
